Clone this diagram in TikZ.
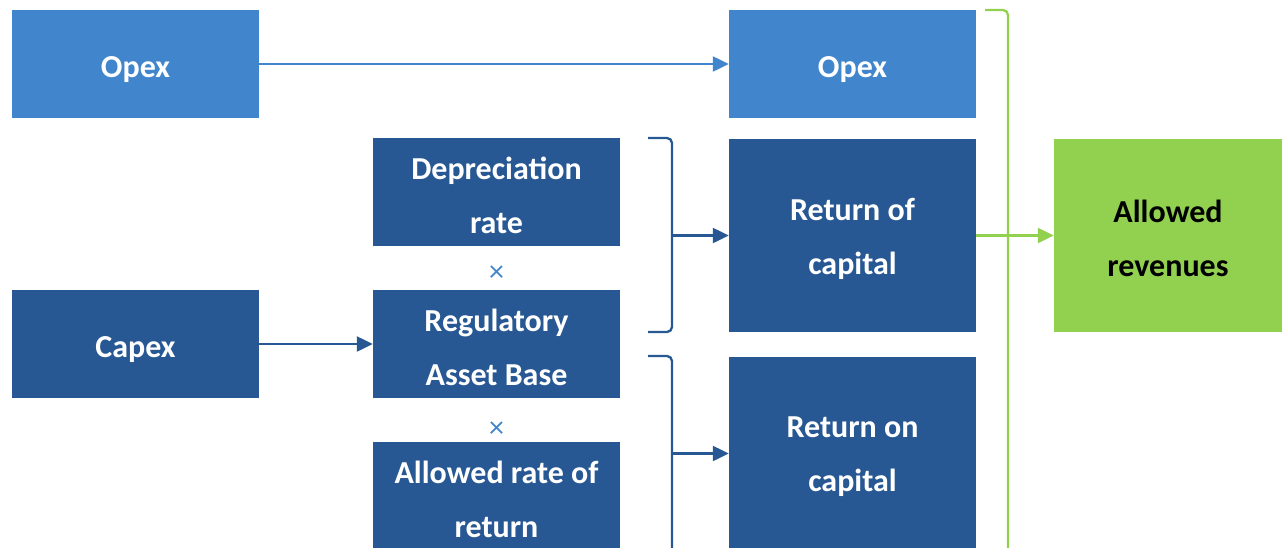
\documentclass[tikz,border=0pt]{standalone}
\usepackage{fontspec}
\setmainfont{Carlito}
\usetikzlibrary{arrows.meta}
\definecolor{lblue}{HTML}{4186CC}
\definecolor{dblue}{HTML}{275893}
\definecolor{lgreen}{HTML}{92D050}
\tikzset{
  box/.style={fill=#1, draw=none, minimum width=247pt, minimum height=108pt, inner sep=0pt},
  tall/.style={minimum height=193pt},
  lbl/.style={text=white, align=center, inner sep=0pt, yshift=-6pt,
    font=\fontsize{32}{54}\selectfont\bfseries},
  lbltwo/.style={lbl, yshift=3pt},
  conn/.style={line width=2.3pt, draw=#1, -{Triangle[length=16pt,width=15pt]}, #1},
  brk/.style={line width=2.3pt, draw=#1, rounded corners=5pt},
  times/.style={text=lblue, font=\fontsize{30}{30}\selectfont}
}
\begin{document}
\begin{tikzpicture}[x=1pt,y=-1pt]
\useasboundingbox (0,0) rectangle (1282,547);
\clip (0,0) rectangle (1282,547);
\node[box=lblue,label={[lbl]center:Opex}] (opexL) at (135.5,64) {};
\node[box=lblue,label={[lbl]center:Opex}] (opexR) at (852.5,64) {};
\node[box=dblue,label={[lbl]center:Capex}] (capex) at (135.5,344) {};
\node[box=dblue,label={[lbltwo]center:Depreciation\\rate}] (dep) at (496.5,192) {};
\node[box=dblue,label={[lbltwo]center:Regulatory\\Asset Base}] (rab) at (496.5,344) {};
\node[box=dblue,label={[lbltwo]center:Allowed rate of\\return}] (arr) at (496.5,496) {};
\node[box=dblue,tall,label={[lbltwo]center:Return of\\capital}] (roc) at (852.5,235.5) {};
\node[box=dblue,tall,label={[lbltwo]center:Return on\\capital}] (ron) at (852.5,453.5) {};
\node[box=lgreen,tall,minimum width=228pt,label={[lbltwo,text=black]center:Allowed\\revenues}] (rev) at (1168,235.5) {};
\node[times] (x1) at (496.5,274) {×};
\node[times] (x2) at (496.5,430) {×};
% brackets
\draw[brk=dblue] (648,138) -- (672,138) -- (672,332) -- (648,332);
\draw[brk=dblue] (648,356) -- (672,356) -- (672,560) -- (648,560);
\draw[brk=lgreen] (985,10) -- (1008,10) -- (1008,560) -- (985,560);
\coordinate (b1) at (672,235.5);
\coordinate (b2) at (672,453.5);
% connectors
\draw[conn=lblue] (opexL.east) -- (opexR.west);
\draw[conn=dblue] (capex.east) -- (rab.west);
\draw[conn=dblue] (b1) -- (roc.west);
\draw[conn=dblue] (b2) -- (ron.west);
\draw[conn=lgreen] (roc.east) -- (rev.west);
\end{tikzpicture}
\end{document}
